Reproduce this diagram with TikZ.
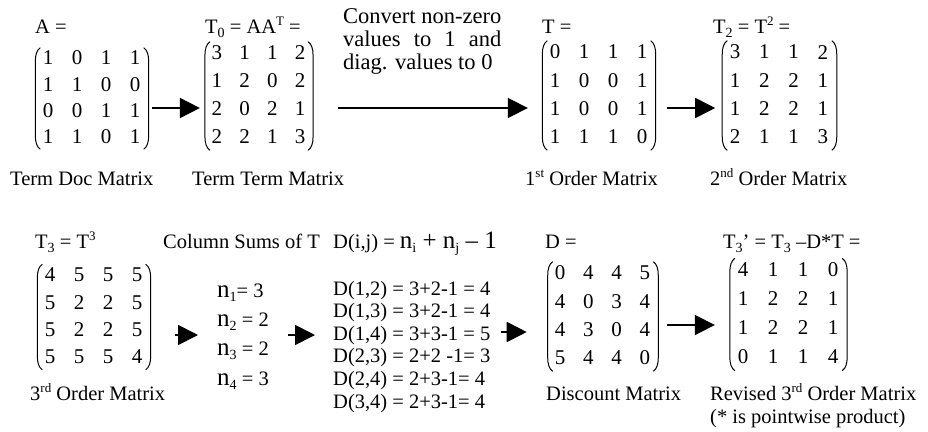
\documentclass[tikz,border=0pt]{standalone}
\usepackage{fontspec}
\setmainfont{Liberation Serif}
\usetikzlibrary{matrix,calc,arrows.meta}
\newcommand\mysub[1]{\raisebox{-4pt}{\fontsize{14}{14}\selectfont #1}}
\newcommand\mysup[1]{\raisebox{8pt}{\fontsize{13}{13}\selectfont #1}}
\newcommand\matfont{\fontsize{21}{24}\selectfont}
\newcommand\bigfont{\fontsize{25}{30}\selectfont}
\newcommand\convfont{\fontsize{22.5}{26}\selectfont}
\newlength\convw
\newcommand\parens[1]{%
  \draw[paren] ($(#1.north west)+(7,3)$) .. controls +(-3.5,2.5) and +(0,-7) .. ($(#1.north west)+(2,17)$)
     -- ($(#1.south west)+(2,-15)$) .. controls +(0,7) and +(-3.5,-2.5) .. ($(#1.south west)+(7,-1)$);
  \draw[paren] ($(#1.north east)+(-6,3)$) .. controls +(3.5,2.5) and +(0,-7) .. ($(#1.north east)+(-1,17)$)
     -- ($(#1.south east)+(-1,-15)$) .. controls +(0,7) and +(3.5,-2.5) .. ($(#1.south east)+(-6,-1)$);
}
\begin{document}
\begin{tikzpicture}[x=1pt,y=-1pt, font=\fontsize{20.5}{24}\selectfont,
  lbl/.style={anchor=base west, inner sep=0pt},
  mat/.style 2 args={matrix of nodes, inner sep=0pt, ampersand replacement=\&,
     nodes={inner sep=0pt, anchor=center, minimum width=#1, minimum height=#2, font=\matfont}},
  paren/.style={line width=1pt},
  arr/.style={line width=1.8pt, -{Triangle[length=20pt,width=20pt]}}]
\useasboundingbox (0,0) rectangle (928,431);

% ---------- top row ----------
\node[lbl] (lA) at (35,33) {A =};
\matrix (A) [mat={29pt}{26.3pt}] at (91.5,97.5)
  {1\&0\&1\&1\\ 1\&1\&0\&0\\ 0\&0\&1\&1\\ 1\&1\&0\&1\\};
\parens{A}
\node[lbl] (cA) at (10,185) {Term Doc Matrix};

\node[lbl] (lT0) at (205,33) {T\mysub{0} = AA\mysup{T} =};
\matrix (T0) [mat={27.7pt}{28pt}] at (258.5,95)
  {3\&1\&1\&2\\ 1\&2\&0\&2\\ 2\&0\&2\&1\\ 2\&2\&1\&3\\};
\parens{T0}
\node[lbl] (cT0) at (192,185) {Term Term Matrix};

\node[lbl, font=\convfont] (conv1) at (343,23) {Convert non-zero};
\node[lbl, font=\convfont] (conv2) at (343,46) {\settowidth{\convw}{Convert non-zero}\hbox to \convw{values\hfill to\hfill 1\hfill and}};
\node[lbl, font=\convfont] (conv3) at (343,69) {diag. values to 0};

\node[lbl] (lT) at (542,33) {T =};
\matrix (T) [mat={29pt}{28.3pt}] at (598.5,94.5)
  {0\&1\&1\&1\\ 1\&0\&0\&1\\ 1\&0\&0\&1\\ 1\&1\&1\&0\\};
\parens{T}
\node[lbl] (cT) at (525,185) {1\mysup{st} Order Matrix};

\node[lbl] (lT2) at (713,33) {T\mysub{2} = T\mysup{2} =};
\matrix (T2) [mat={29.3pt}{28.3pt}] at (779,94.5)
  {3\&1\&1\&2\\ 1\&2\&2\&1\\ 1\&2\&2\&1\\ 2\&1\&1\&3\\};
\parens{T2}
\node[lbl] (cT2) at (710,185) {2\mysup{nd} Order Matrix};

\draw[arr] ($(A.east |- 0,108)+(2.5,0)$) -- ($(T0.west |- 0,108)+(-3,0)$);
\draw[arr] ($(T0.east |- 0,108)+(24,0)$) -- ($(T.west |- 0,108)+(-12.5,0)$);
\draw[arr] ($(T.east |- 0,108)+(10.5,0)$) -- ($(T2.west |- 0,108)+(-5,0)$);

% ---------- bottom row ----------
\node[lbl] (lT3) at (35,248) {T\mysub{3} = T\mysup{3}};
\matrix (T3) [mat={29pt}{27.3pt}] at (93.5,316)
  {4\&5\&5\&5\\ 5\&2\&2\&5\\ 5\&2\&2\&5\\ 5\&5\&5\&4\\};
\parens{T3}
\node[lbl] (cT3) at (30,400) {3\mysup{rd} Order Matrix};

\node[lbl] (lcol) at (163,248) {Column Sums of T};
\node[lbl] (n1) at (217,297) {{\bigfont n}\mysub{1}= 3};
\node[lbl] (n2) at (217,326) {{\bigfont n}\mysub{2} = 2};
\node[lbl] (n3) at (217,355) {{\bigfont n}\mysub{3} = 2};
\node[lbl] (n4) at (217,385) {{\bigfont n}\mysub{4} = 3};

\node[lbl] (lDij) at (333,248) {D(i,j) = {\bigfont n\mysub{i} + n\mysub{j} – 1}};
\node[lbl] (d1) at (333,295) {D(1,2) = 3+2-1 = 4};
\node[lbl] (d2) at (333,317.6) {D(1,3) = 3+2-1 = 4};
\node[lbl] (d3) at (333,340.2) {D(1,4) = 3+3-1 = 5};
\node[lbl] (d4) at (333,362.8) {D(2,3) = 2+2 -1= 3};
\node[lbl] (d5) at (333,385.4) {D(2,4) = 2+3-1= 4};
\node[lbl] (d6) at (333,408) {D(3,4) = 2+3-1= 4};

\node[lbl] (lD) at (545,248) {D =};
\matrix (D) [mat={28.3pt}{28.3pt}] at (602.5,315.5)
  {0\&4\&4\&5\\ 4\&0\&3\&4\\ 4\&3\&0\&4\\ 5\&4\&4\&0\\};
\parens{D}
\node[lbl] (cD) at (546,400) {Discount Matrix};

\node[lbl] (lT3p) at (723,248) {T\mysub{3}’ = T\mysub{3} –D*T =};
\matrix (T3p) [mat={30pt}{29pt}] at (788,313.5)
  {4\&1\&1\&0\\ 1\&2\&2\&1\\ 1\&2\&2\&1\\ 0\&1\&1\&4\\};
\parens{T3p}
\node[lbl] (cT3p) at (710,400) {Revised 3\mysup{rd} Order Matrix};
\node[lbl] (cT3q) at (710,423) {(* is pointwise product)};

\draw[arr] ($(T3.east |- 0,335)+(23.5,0)$) -- ($(n1.west |- 0,335)+(-19,0)$);
\draw[arr] ($(n2.east |- 0,335)+(19,0)$) -- ($(d1.west |- 0,335)+(-18,0)$);
\draw[arr] ($(d3.east |- 0,332)+(10,0)$) -- ($(D.west |- 0,332)+(-19,0)$);
\draw[arr] ($(D.east |- 0,325)+(8,0)$) -- ($(T3p.west |- 0,325)+(-13,0)$);
\end{tikzpicture}
\end{document}
